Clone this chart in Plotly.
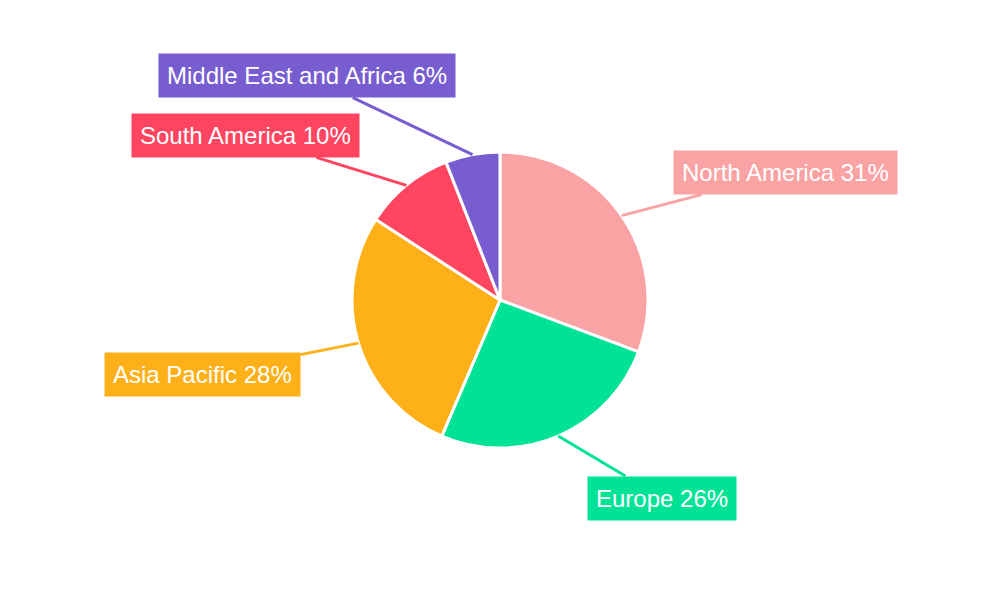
import math
import plotly.graph_objects as go

regions = ["North America", "Europe", "Asia Pacific", "South America", "Middle East and Africa"]
shares = [31, 26, 28, 10, 6]
colors = ["#F9A3A4", "#00E396", "#FEB019", "#FF4560", "#775DD0"]
# label offsets in pixels (box centre relative to slice edge)
label_dx = [164, 104, -156, -161, -166]
label_dy = [-43, 62, 31, -50, -79]

W, H = 1000, 600
cx, cy, r = 492, 292, 148  # page body margin shifts the drawing by ~8px

fig = go.Figure(go.Pie(
    labels=regions, values=shares, sort=False, direction="clockwise", rotation=0,
    marker=dict(colors=colors, line=dict(color="white", width=3)),
    textinfo="none", hoverinfo="label+percent",
    domain=dict(x=[(cx - r) / W, (cx + r) / W], y=[1 - (cy + r) / H, 1 - (cy - r) / H]),
))

total = sum(shares)
acc = 0
annotations = []
for name, v, c, dx, dy in zip(regions, shares, colors, label_dx, label_dy):
    mid = (acc + v / 2) / total * 2 * math.pi
    acc += v
    px = cx + r * math.sin(mid)
    py = cy - r * math.cos(mid)
    annotations.append(dict(
        x=px / W, y=1 - py / H, xref="paper", yref="paper",
        text=f"{name} {round(v / total * 100)}%",
        showarrow=True, arrowhead=0, arrowwidth=3, arrowcolor=c,
        ax=dx, ay=dy, bgcolor=c, borderpad=8,
        font=dict(family="Liberation Sans, Arial", size=24, color="white"),
    ))

fig.update_layout(
    width=W, height=H, showlegend=False,
    margin=dict(l=0, r=0, t=0, b=0),
    paper_bgcolor="white", annotations=annotations,
)
fig.write_html("out.html")
